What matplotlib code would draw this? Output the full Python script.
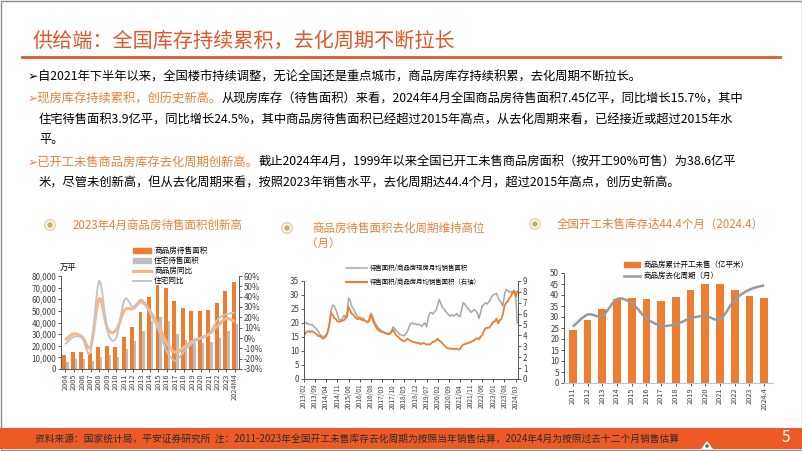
import numpy as np
import matplotlib
matplotlib.use('Agg')
import matplotlib.pyplot as plt
from matplotlib.path import Path
from matplotlib.patches import PathPatch, Rectangle, Circle, Patch, Polygon
from matplotlib.lines import Line2D
from matplotlib.ticker import FuncFormatter

plt.rcParams['font.family'] = ['Noto Sans CJK SC', 'DejaVu Sans']
plt.rcParams['axes.unicode_minus'] = False

# 图1：商品房/住宅待售面积（万平）及同比（%）
years1 = ['2004', '2005', '2006', '2007', '2008', '2009', '2010', '2011', '2012', '2013',
          '2014', '2015', '2016', '2017', '2018', '2019', '2020', '2021', '2022', '2023', '2024M4']
comm_area = [12300, 14679, 14551, 13363, 18626, 19947, 19237, 27194, 36460, 49295,
             62169, 71853, 69539, 58923, 52414, 49821, 49850, 51023, 56366, 67295, 74543]
resi_area = [6000, 8600, 8600, 7100, 10600, 12000, 10600, 17000, 24000, 32600,
             41000, 45000, 41000, 30500, 25000, 22500, 22400, 22800, 27000, 33100, 39000]
comm_yoy = [-2, 4, 1, -8, 38, 9, 7.5, 27, 28.5, 35, 26, 12, -5, -14, -9, -3, 0, 4, 12, 19, 15.7]
resi_yoy = [-6, 1, 0, -13, 55, 6, 0, 37, 30, 37, 24, 8, -13, -22, -13, -5, 0, 4, 18, 23, 24.5]

# 图2：去化周期（月），2013/02-2024/04
gray_ratio = [19.9, 20.2, 19.6, 19.8, 19.3, 19.5, 18.9, 18.3, 17.8, 17.0, 16.0,
              15.4, 15.1, 15.3, 15.8, 17.0, 19.5, 24.5, 26.4, 26.0, 24.8, 23.2, 21.2,
              21.0, 21.4, 22.8, 22.0, 23.5, 28.9, 28.0, 26.0, 25.2, 24.0, 22.8, 22.0,
              22.2, 21.6, 21.8, 21.0, 20.6, 20.4, 21.5, 23.5, 22.6, 20.8, 19.8, 18.8,
              18.0, 17.6, 17.0, 16.8, 16.5, 16.0, 16.4, 16.2, 17.2, 18.6, 18.0, 17.2,
              16.6, 16.0, 15.8, 15.6, 15.4, 16.2, 17.0, 18.5, 19.8, 20.0, 19.6, 19.8,
              19.4, 19.6, 19.2, 18.8, 19.5, 20.0, 18.6, 21.5, 23.4, 23.8, 23.2, 24.0,
              24.6, 26.5, 28.4, 27.0, 25.6, 25.0, 24.2, 23.5, 22.8, 22.4, 23.0, 22.5,
              22.8, 23.4, 22.6, 22.3, 24.5, 27.2, 26.8, 26.0, 25.2, 24.6, 23.8, 24.2,
              24.8, 24.4, 23.5, 21.6, 23.8, 26.0, 26.5, 27.2, 26.8, 27.5, 28.2, 29.5,
              30.0, 30.4, 30.6, 29.0, 28.0, 27.4, 26.0, 30.2, 32.0, 31.6, 31.0, 31.2,
              31.0, 31.6, 30.8, 20.0]
orange_ratio = [3.95, 4.25, 4.35, 4.40, 4.30, 4.40, 4.30, 4.20, 4.10, 3.95, 3.95,
                3.80, 3.70, 3.80, 3.95, 4.40, 5.10, 6.05, 5.90, 5.60, 5.50, 5.30, 5.25,
                5.30, 5.35, 5.40, 5.55, 5.70, 6.65, 6.30, 6.00, 5.90, 5.70, 5.55, 5.50,
                5.55, 5.45, 5.40, 5.40, 5.30, 5.20, 5.35, 5.85, 5.55, 5.10, 4.85, 4.60,
                4.45, 4.40, 4.30, 4.30, 4.20, 4.20, 4.10, 4.15, 4.30, 4.55, 4.25, 4.00,
                3.90, 3.75, 3.60, 3.55, 3.45, 3.55, 3.70, 3.60, 3.50, 3.45, 3.40, 3.35,
                3.30, 3.35, 3.20, 3.25, 3.30, 3.25, 3.15, 3.20, 3.15, 3.30, 3.40, 3.45,
                3.55, 3.70, 3.50, 3.45, 3.25, 3.10, 2.95, 2.85, 2.80, 2.80, 2.75, 2.80,
                2.75, 2.80, 2.70, 2.75, 3.00, 3.15, 3.20, 3.25, 3.30, 3.35, 3.40, 3.50,
                3.55, 3.70, 3.75, 3.65, 3.90, 4.00, 4.40, 4.65, 4.70, 4.70, 4.80, 5.05,
                5.25, 5.30, 5.55, 5.10, 5.40, 5.50, 5.95, 6.70, 7.00, 7.10, 7.40, 7.60,
                7.90, 8.10, 7.55, 8.05]

# 图3：开工未售（亿平米）与去化周期（月）
years3 = ['2011', '2012', '2013', '2014', '2015', '2016', '2017', '2018', '2019',
          '2020', '2021', '2022', '2023', '2024.4']
unsold = [24.1, 28.7, 33.7, 38.1, 38.7, 38.3, 37.5, 39.0, 42.2, 44.8, 44.8, 42.2, 39.6, 38.6]
cycle = [25.6, 31.1, 30.5, 38.1, 36.3, 29.4, 26.1, 26.7, 29.4, 30.5, 29.0, 37.8, 42.4, 44.4]

ORANGE = '#ED7D31'
RED = '#E2562A'
TITLE_OR = '#E6823E'
W, H = 802, 451


def smooth_path(xs, ys):
    # Excel 风格的平滑曲线（Catmull-Rom 转 Bezier）
    pts = np.column_stack([xs, ys]).astype(float)
    ext = np.vstack([pts[0], pts, pts[-1]])
    verts = [pts[0]]
    codes = [Path.MOVETO]
    for i in range(len(pts) - 1):
        p0, p1, p2, p3 = ext[i], ext[i + 1], ext[i + 2], ext[i + 3]
        verts += [p1 + (p2 - p0) / 6, p2 - (p3 - p1) / 6, p2]
        codes += [Path.CURVE4] * 3
    return Path(verts, codes)


def fig_rect(x0, y0, x1, y1):
    return [x0 / W, 1 - y1 / H, (x1 - x0) / W, (y1 - y0) / H]


def icon(x, y):
    bg.add_patch(Circle((x, y), 5.2, facecolor='white', edgecolor='#E4D6B2', lw=1.2))
    bg.add_patch(Circle((x, y), 2.8, facecolor='#CDAE6A', edgecolor='none'))


fig = plt.figure(figsize=(W / 100, H / 100), dpi=100)
bg = fig.add_axes([0, 0, 1, 1])
bg.set_xlim(0, W)
bg.set_ylim(H, 0)
bg.axis('off')

# 页面框、标题
bg.add_patch(Rectangle((0.5, 0.5), W - 1, H - 1.5, fill=False, edgecolor='#8C8C8C', lw=1))
bg.text(33, 41, '供给端：全国库存持续累积，去化周期不断拉长', color=RED, fontsize=14.5,
        fontweight='medium', va='center')
bg.plot([22, 780], [57, 57], color=RED, lw=2)

# 正文
fs = 8.85
t = bg.text(28, 77, '➢', color='black', fontsize=fs, va='center')
bg.annotate('自2021年下半年以来，全国楼市持续调整，无论全国还是重点城市，商品房库存持续积累，去化周期不断拉长。',
            xy=(1, 0.5), xycoords=t, va='center', fontsize=fs, color='black')
t = bg.text(28, 99, '➢现房库存持续累积，创历史新高。', color=TITLE_OR, fontsize=fs, va='center')
bg.annotate('从现房库存（待售面积）来看，2024年4月全国商品房待售面积7.45亿平，同比增长15.7%，其中',
            xy=(1, 0.5), xycoords=t, va='center', fontsize=fs, color='black')
bg.text(39, 120, '住宅待售面积3.9亿平，同比增长24.5%，其中商品房待售面积已经超过2015年高点，从去化周期来看，已经接近或超过2015年水',
        fontsize=fs, va='center')
bg.text(39, 140, '平。', fontsize=fs, va='center')
t = bg.text(28, 162, '➢已开工未售商品房库存去化周期创新高。', color=TITLE_OR, fontsize=fs, va='center')
bg.annotate('截止2024年4月，1999年以来全国已开工未售商品房面积（按开工90%可售）为38.6亿平',
            xy=(1, 0.5), xycoords=t, va='center', fontsize=fs, color='black')
bg.text(39, 183, '米，尽管未创新高，但从去化周期来看，按照2023年销售水平，去化周期达44.4个月，超过2015年高点，创历史新高。',
        fontsize=fs, va='center')

# 小标题
icon(50, 225)
bg.text(73, 225, '2023年4月商品房待售面积创新高', color=TITLE_OR, fontsize=8.3, fontweight='medium', va='center')
icon(287, 228)
bg.text(312, 228, '商品房待售面积去化周期维持高位', color=TITLE_OR, fontsize=8.3, fontweight='medium', va='center')
bg.text(306, 243, '（月）', color=TITLE_OR, fontsize=8.3, fontweight='medium', va='center')
icon(535, 224)
bg.text(557, 224, '全国开工未售库存达44.4个月（2024.4）', color=TITLE_OR, fontsize=8.3, fontweight='medium', va='center')

# 页脚
bg.add_patch(Rectangle((0, 428), W, 21, facecolor='#EE5A26', edgecolor='none'))
bg.text(35, 438.5, '资料来源：国家统计局，平安证券研究所  注：2011-2023年全国开工未售库存去化周期为按照当年销售估算，2024年4月为按照过去十二个月销售估算',
        fontsize=7, va='center', color='#2B2B2B')
bg.text(786, 438, '5', fontsize=11, va='center', ha='center', color='white')
bg.add_patch(Polygon([[701, 449], [707, 441], [713, 449]], closed=True, facecolor='white', edgecolor='none'))
bg.add_patch(Circle((707, 446), 1.8, facecolor='#1E8A6E', edgecolor='none'))


def style_axis(ax, color='#595959'):
    for s in ax.spines.values():
        s.set_color(color)
        s.set_linewidth(0.7)
    ax.tick_params(colors='#404040', length=2, width=0.6, pad=1.5)


# ---------- 图1 ----------
ax1 = fig.add_axes(fig_rect(61, 276, 239, 369))
x1 = np.arange(len(years1))
ax1.bar(x1 - 0.12, comm_area, width=0.46, color=ORANGE, zorder=2)
ax1.bar(x1 + 0.25, resi_area, width=0.28, color='#BDBDBD', zorder=2)
ax1.set_xlim(-0.5, len(years1) - 0.5)
ax1.set_ylim(0, 80000)
ax1.set_yticks(range(0, 80001, 10000))
ax1.yaxis.set_major_formatter(FuncFormatter(lambda v, p: f'{v:,.0f}'))
ax1.set_xticks(x1)
ax1.set_xticklabels(years1, rotation=90)
ax1.tick_params(axis='y', labelsize=5.8)
ax1.tick_params(axis='x', labelsize=5.3, length=0)
ax1.spines['top'].set_visible(False)
style_axis(ax1)
ax1r = ax1.twinx()
ax1r.set_ylim(-30, 60)
ax1r.set_yticks(range(-30, 61, 10))
ax1r.yaxis.set_major_formatter(FuncFormatter(lambda v, p: f'{v:.0f}%'))
ax1r.tick_params(axis='y', labelsize=5.8)
ax1r.spines['top'].set_visible(False)
style_axis(ax1r)
ax1r.add_patch(PathPatch(smooth_path(x1, comm_yoy), fill=False, edgecolor='#F6B68A', lw=2.2))
ax1r.add_patch(PathPatch(smooth_path(x1, resi_yoy), fill=False, edgecolor='#C4C4C4', lw=1.4))
bg.text(60, 267, '万平', fontsize=6, va='center')
h1 = [Patch(color=ORANGE), Patch(color='#BDBDBD'),
      Line2D([], [], color='#F6B68A', lw=2.2), Line2D([], [], color='#C4C4C4', lw=1.4)]
ax1r.legend(h1, ['商品房待售面积', '住宅待售面积', '商品房同比', '住宅同比'],
            loc='upper left', bbox_to_anchor=(129 / W, 1 - 243 / H), bbox_transform=fig.transFigure,
            frameon=False, fontsize=5.5, handlelength=2.4, handleheight=0.6, labelspacing=0.28,
            borderpad=0, handletextpad=0.4)

# ---------- 图2 ----------
months = []
for yy in range(2013, 2025):
    for mm in range(1, 13):
        months.append(f'{yy}/{mm:02d}')
months = months[1:1 + len(gray_ratio)]
x2 = np.arange(len(months))
ax2 = fig.add_axes(fig_rect(304, 281, 518, 379))
ax2.plot(x2, gray_ratio, color='#A6A6A6', lw=1.1)
ax2.set_xlim(0, len(months) - 0.5)
ax2.set_ylim(0, 35)
ax2.set_yticks(range(0, 36, 5))
ax2.set_xticks(x2[::7])
ax2.set_xticklabels(months[::7], rotation=90)
ax2.tick_params(axis='y', labelsize=5.8)
ax2.tick_params(axis='x', labelsize=4.8)
ax2.spines['top'].set_visible(False)
style_axis(ax2)
ax2r = ax2.twinx()
ax2r.plot(x2, orange_ratio, color=ORANGE, lw=1.3)
ax2r.set_ylim(0, 9)
ax2r.set_yticks(range(0, 10))
ax2r.tick_params(axis='y', labelsize=5.8)
ax2r.spines['top'].set_visible(False)
style_axis(ax2r)
h2 = [Line2D([], [], color='#A6A6A6', lw=1.1), Line2D([], [], color=ORANGE, lw=1.5)]
ax2r.legend(h2, ['待售面积/商品房现房月均销售面积', '待售面积/商品房月均销售面积（右轴）'],
            loc='upper left', bbox_to_anchor=(343 / W, 1 - 261 / H), bbox_transform=fig.transFigure,
            frameon=False, fontsize=4.6, handlelength=3.2, labelspacing=0.9, borderpad=0,
            handletextpad=0.5)

# ---------- 图3 ----------
x3 = np.arange(len(years3))
ax3 = fig.add_axes(fig_rect(564, 273, 773, 383))
ax3.bar(x3, unsold, width=0.52, color=ORANGE, zorder=2)
ax3.add_patch(PathPatch(smooth_path(x3, cycle), fill=False, edgecolor='#9A9A9A', lw=1.8, zorder=3))
ax3.set_xlim(-0.6, len(years3) - 0.4)
ax3.set_ylim(0, 50)
ax3.set_yticks(range(0, 51, 5))
ax3.set_xticks(x3)
ax3.set_xticklabels(years3, rotation=90)
ax3.tick_params(axis='y', labelsize=5.8)
ax3.tick_params(axis='x', labelsize=5.3, length=0)
for s in ['top', 'right']:
    ax3.spines[s].set_visible(False)
style_axis(ax3)
ax3.spines['bottom'].set_color('#B8C4D6')
h3 = [Patch(color=ORANGE), Line2D([], [], color='#9A9A9A', lw=1.8)]
ax3.legend(h3, ['商品房累计开工未售（亿平米）', '商品房去化周期（月）'],
           loc='upper left', bbox_to_anchor=(620 / W, 1 - 257 / H), bbox_transform=fig.transFigure,
           frameon=False, fontsize=5.4, handlelength=2.2, handleheight=0.7, labelspacing=0.45,
           borderpad=0, handletextpad=0.4)

fig.savefig('out.png', dpi=100)
